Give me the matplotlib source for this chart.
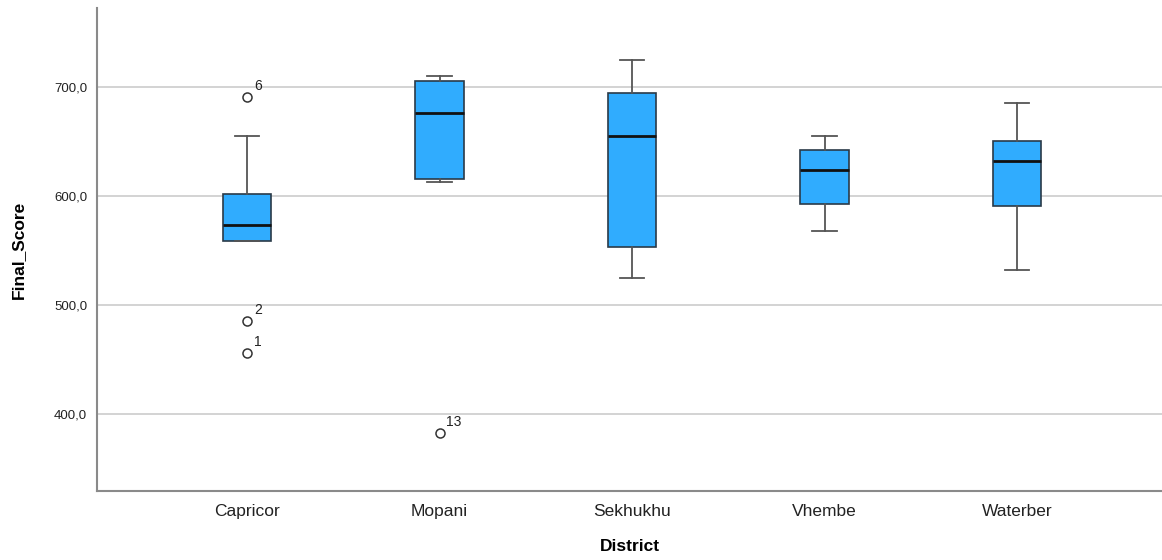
import matplotlib
matplotlib.use("Agg")
import matplotlib.pyplot as plt

plt.rcParams['font.family'] = ['Liberation Sans', 'DejaVu Sans']

districts = ['Capricor', 'Mopani', 'Sekhukhu', 'Vhembe', 'Waterber']
whisker_low = [559.1, 612.9, 524.9, 567.7, 532.5]
q1 = [559.1, 615.7, 553.0, 592.7, 590.9]
medians = [573.5, 676.2, 654.7, 623.6, 632.2]
q3 = [602.2, 705.8, 694.8, 642.2, 650.1]
whisker_high = [654.7, 709.7, 724.7, 654.7, 685.0]
outliers = [[690.5, 485.2, 455.9], [382.9], [], [], []]
outlier_ids = [['6', '2', '1'], ['13'], [], [], []]

stats = []
for i, name in enumerate(districts):
    stats.append({'label': name, 'whislo': whisker_low[i], 'q1': q1[i],
                  'med': medians[i], 'q3': q3[i], 'whishi': whisker_high[i],
                  'fliers': outliers[i]})

fig = plt.figure(figsize=(11.62, 5.6), dpi=100)
ax = fig.add_axes([0.0835, 0.1232, 0.9165, 0.8625])

pos = list(range(1, len(districts) + 1))
ax.bxp(stats, positions=pos, widths=0.25, patch_artist=True,
       boxprops=dict(facecolor='#30acfe', edgecolor='#2a3a48', linewidth=1.2),
       medianprops=dict(color='#111111', linewidth=2),
       whiskerprops=dict(color='#555555', linewidth=1.3),
       capprops=dict(color='#555555', linewidth=1.3),
       capwidths=0.125,
       flierprops=dict(marker='o', markersize=6.5, markerfacecolor='none',
                       markeredgecolor='#333333', markeredgewidth=1.1),
       zorder=3)

# case number labels next to outliers
for i in range(len(districts)):
    for v, lab in zip(outliers[i], outlier_ids[i]):
        ax.annotate(lab, (pos[i], v), xytext=(5, 3), textcoords='offset points',
                    fontsize=10, color='#222222', ha='left', va='bottom')

ax.set_xlim(0.221, 5.753)
ax.set_ylim(329.6, 772.5)
ax.set_yticks([400, 500, 600, 700])
ax.set_yticklabels(['400,0', '500,0', '600,0', '700,0'])
ax.yaxis.grid(True, color='#c8c8c8', linewidth=1.1, zorder=0)
ax.set_axisbelow(True)
ax.tick_params(axis='both', length=0, colors='#222222')
ax.tick_params(axis='y', labelsize=9.5, pad=7)
ax.tick_params(axis='x', labelsize=12.5, pad=9)

for s in ['top', 'right']:
    ax.spines[s].set_visible(False)
for s in ['left', 'bottom']:
    ax.spines[s].set_color('#8a8a8a')
    ax.spines[s].set_linewidth(1.5)

ax.set_xlabel('District', fontsize=12.5, fontweight='bold', labelpad=15)
ax.set_ylabel('Final_Score', fontsize=12.5, fontweight='bold', labelpad=20)

fig.savefig('out.png', dpi=100)
